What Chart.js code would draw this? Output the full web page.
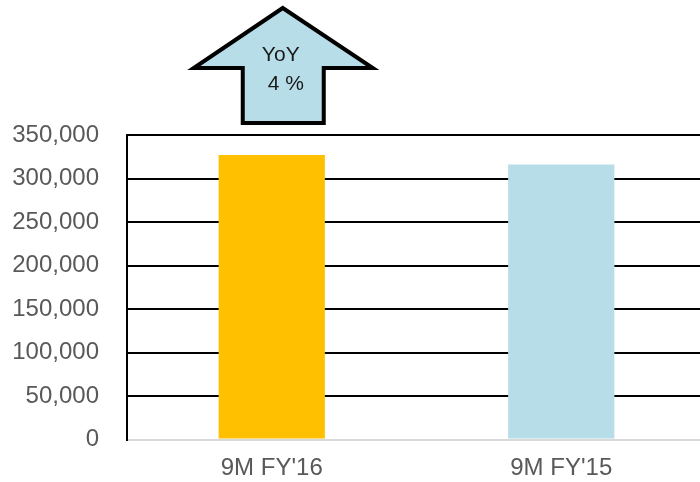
<!DOCTYPE html>
<html>
<head>
<meta charset="utf-8">
<script src="https://cdn.jsdelivr.net/npm/chart.js@4/dist/chart.umd.min.js"></script>
<style>
  html, body { margin: 0; padding: 0; background: #fff; overflow: hidden; }
  canvas { display: block; }
</style>
</head>
<body>
<canvas id="grafica" width="706" height="482"></canvas>
<script>
// datos
const categorias = ["9M FY'16", "9M FY'15"];
const valores = [327000, 316000];
const coloresBarras = ['#FFC000', '#B7DDE8'];
const yoyTexto = ['YoY', '4 %'];

// flecha YoY encima de la primera barra
const flechaYoY = {
    id: 'flechaYoY',
    afterDraw(chart) {
        const ctx = chart.ctx;
        const cx = chart.scales.x.getPixelForValue(0) + 11;
        ctx.save();
        ctx.beginPath();
        ctx.moveTo(cx, 8);
        ctx.lineTo(cx + 90, 68);
        ctx.lineTo(cx + 41, 68);
        ctx.lineTo(cx + 41, 123);
        ctx.lineTo(cx - 40, 123);
        ctx.lineTo(cx - 40, 68);
        ctx.lineTo(cx - 89, 68);
        ctx.closePath();
        ctx.fillStyle = '#B7DDE8';
        ctx.fill();
        ctx.lineWidth = 4;
        ctx.lineJoin = 'miter';
        ctx.strokeStyle = '#000';
        ctx.stroke();
        ctx.fillStyle = '#1a1a1a';
        ctx.font = '21px "Liberation Sans", Arial, sans-serif';
        ctx.textAlign = 'center';
        ctx.textBaseline = 'middle';
        ctx.fillText(yoyTexto[0], cx - 2, 55);
        ctx.fillText(yoyTexto[1], cx + 3, 84);
        ctx.restore();
    }
};

const fuente = { family: '"Liberation Sans", Arial, sans-serif', size: 24 };

const grafica = document.getElementById('grafica').getContext('2d');
const chart = new Chart(grafica, {
    type: 'bar',
    data: {
        labels: categorias,
        datasets: [{
            data: valores,
            backgroundColor: coloresBarras,
            barPercentage: 0.367,
            categoryPercentage: 1
        }]
    },
    options: {
        responsive: false,
        animation: false,
        layout: {
            padding: { top: 135, left: 0, right: 0, bottom: 0 }
        },
        plugins: {
            legend: { display: false },
            tooltip: { enabled: false }
        },
        scales: {
            x: {
                afterFit: s => { s.height = 42; },
                grid: { display: false, drawTicks: false },
                border: { display: true, color: '#d9d9d9', width: 2 },
                ticks: { color: '#595959', font: fuente, padding: 14 }
            },
            y: {
                min: 0,
                max: 350000,
                afterFit: s => { s.width = 127; },
                ticks: {
                    stepSize: 50000,
                    color: '#595959',
                    font: fuente,
                    padding: 28,
                    callback: v => v.toLocaleString('en-US')
                },
                grid: {
                    drawTicks: false,
                    lineWidth: 2,
                    color: c => (c.tick && c.tick.value === 0) ? '#d9d9d9' : '#000'
                },
                border: { display: true, color: '#000', width: 2 }
            }
        }
    },
    plugins: [flechaYoY]
});
</script>
</body>
</html>
